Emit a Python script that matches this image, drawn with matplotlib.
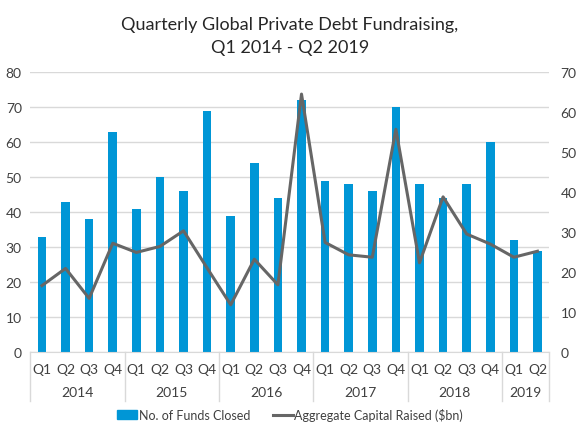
import matplotlib
matplotlib.use("Agg")
import matplotlib.pyplot as plt
from matplotlib.lines import Line2D
from matplotlib.patches import Patch
import numpy as np

plt.rcParams['font.family'] = ['Lato', 'DejaVu Sans']

quarters = ["Q1", "Q2", "Q3", "Q4"] * 5 + ["Q1", "Q2"]
years = ["2014", "2015", "2016", "2017", "2018", "2019"]
year_counts = [4, 4, 4, 4, 4, 2]
funds_closed = [33, 43, 38, 63, 41, 50, 46, 69, 39, 54, 44, 72,
                49, 48, 46, 70, 48, 44, 48, 60, 32, 29]
capital_raised = [16.6, 20.9, 13.4, 27.2, 24.9, 26.4, 30.3, 21.0,
                  11.8, 23.2, 16.8, 64.5, 27.4, 24.3, 23.7, 55.7,
                  22.3, 38.8, 29.5, 27.0, 23.7, 25.2]

bar_color = "#0096D6"
line_color = "#666666"
grid_color = "#D9D9D9"
text_color = "#404040"

fig = plt.figure(figsize=(5.8, 4.35), dpi=100)
ax = fig.add_axes([0.052, 0.1885, 0.895, 0.6435])
ax2 = ax.twinx()

x = np.arange(len(funds_closed))
ax.bar(x, funds_closed, width=0.36, color=bar_color, zorder=2)
ax2.plot(x, capital_raised, color=line_color, lw=2.2, zorder=3)

ax.set_xlim(-0.5, len(x) - 0.5)
ax.set_ylim(0, 80)
ax.set_yticks(range(0, 81, 10))
ax2.set_ylim(0, 70)
ax2.set_yticks(range(0, 71, 10))

ax.yaxis.grid(True, color=grid_color, lw=1)
ax.set_axisbelow(True)

for a in (ax, ax2):
    for s in a.spines.values():
        s.set_visible(False)
    a.tick_params(axis='y', length=0, labelsize=10, colors=text_color)
ax.spines['bottom'].set_visible(True)
ax.spines['bottom'].set_color(grid_color)
ax.tick_params(axis='y', pad=6)
ax2.tick_params(axis='y', pad=8)

ax.set_xticks(x)
ax.set_xticklabels(quarters, fontsize=10, color=text_color)
ax.tick_params(axis='x', length=0, pad=8)

# year labels and separators
trans = ax.get_xaxis_transform()
start = 0
bounds = [-0.5]
for yr, n in zip(years, year_counts):
    center = start + (n - 1) / 2
    ax.text(center, -0.143, yr, transform=trans, ha='center', va='center',
            fontsize=10, color=text_color)
    start += n
    bounds.append(start - 0.5)
for b in bounds:
    ax.add_line(Line2D([b, b], [0, -0.175], transform=trans, color=grid_color,
                       lw=1, clip_on=False))

fig.suptitle("Quarterly Global Private Debt Fundraising,\nQ1 2014 - Q2 2019",
             y=0.962, fontsize=13, color="#262626", linespacing=1.55)

handles = [Patch(color=bar_color), Line2D([], [], color=line_color, lw=2.2)]
fig.legend(handles, ["No. of Funds Closed", "Aggregate Capital Raised ($bn)"],
           loc='center', bbox_to_anchor=(0.5, 0.045), ncol=2, frameon=False,
           fontsize=9, handlelength=1.6, handletextpad=0.1, columnspacing=1.8,
           labelcolor=text_color)

fig.savefig("out.png", dpi=100)
